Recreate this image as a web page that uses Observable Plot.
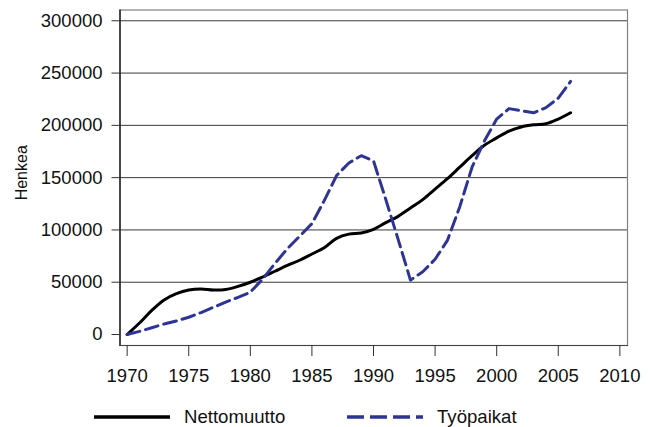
<!DOCTYPE html>
<html>
<head>
<meta charset="utf-8">
<script src="https://cdn.jsdelivr.net/npm/d3@7"></script>
<script src="https://cdn.jsdelivr.net/npm/@observablehq/plot@0.6"></script>
<style>
  body { margin: 0; background: #fff; font-family: "Liberation Sans", Arial, sans-serif; }
  #wrap { position: relative; width: 653px; height: 427px; }
  #legend { position: absolute; left: 0; top: 405px; width: 653px; height: 23px; font-size: 18.6px; color: #111; }
  .item { position: absolute; top: 0; display: flex; align-items: center; height: 23px; }
  .item span { margin-left: 14px; }
</style>
</head>
<body>
<div id="wrap">
  <div id="chart"></div>
  <div id="legend"></div>
</div>
<script>
const years = [1970,1971,1972,1973,1974,1975,1976,1977,1978,1979,1980,1981,1982,1983,1984,1985,1986,1987,1988,1989,1990,1991,1992,1993,1994,1995,1996,1997,1998,1999,2000,2001,2002,2003,2004,2005,2006];
const nettomuutto = [0,11000,23000,33000,39000,42500,43500,42500,43000,46000,50000,55000,60500,66000,71000,77000,83000,92000,96000,97000,100500,107000,113000,121000,129000,139000,149000,160000,171000,181000,188000,194500,198500,200500,201500,206000,212000];
const tyopaikat = [0,3000,6500,10000,13000,16500,21000,26000,31000,35500,40500,53000,68000,82000,94000,106000,128000,152000,164000,171000,166000,129000,91000,52000,60000,72000,90000,122000,160000,185000,206000,216000,214000,212000,217000,226000,242000];
const seriesNames = ["Nettomuutto", "Työpaikat"];
const xTicks = [1970,1975,1980,1985,1990,1995,2000,2005,2010];
const yTicks = [0,50000,100000,150000,200000,250000,300000];
const gridValues = [50000,100000,150000,200000,250000,300000];
const yLabel = "Henkea";

const colors = { "Nettomuutto": "#000000", "Työpaikat": "#2e3494" };

const rows = [];
years.forEach((y, i) => {
  rows.push({ year: y, value: nettomuutto[i], series: seriesNames[0] });
  rows.push({ year: y, value: tyopaikat[i], series: seriesNames[1] });
});

const chart = Plot.plot({
  width: 653,
  height: 395,
  marginLeft: 119.5,
  marginRight: 26,
  marginTop: 9.5,
  marginBottom: 50,
  style: { fontFamily: "'Liberation Sans', Arial, sans-serif", fontSize: "18.5px", color: "#111", background: "#fff" },
  x: { domain: [1969.42, 2010.62] },
  y: { domain: [-10500, 310300] },
  marks: [
    Plot.ruleY(gridValues, { stroke: "#3a3a3a", strokeWidth: 1 }),
    Plot.frame({ stroke: "#808080", strokeWidth: 1.2 }),
    Plot.frame({ anchor: "left", stroke: "#000", strokeWidth: 1.2 }),
    Plot.frame({ anchor: "bottom", stroke: "#444", strokeWidth: 1.2 }),
    Plot.axisX({ ticks: xTicks, tickFormat: d => String(d), tickSize: 11, tickPadding: 12, stroke: "#333", label: null, fontSize: 18.5 }),
    Plot.axisY({ ticks: yTicks, tickFormat: d => String(d), tickSize: 8, tickPadding: 9.5, stroke: "#333", label: null, fontSize: 18.5 }),
    Plot.line(rows.filter(d => d.series === seriesNames[0]), { x: "year", y: "value", stroke: colors[seriesNames[0]], strokeWidth: 3, curve: "catmull-rom" }),
    Plot.line(rows.filter(d => d.series === seriesNames[1]), { x: "year", y: "value", stroke: colors[seriesNames[1]], strokeWidth: 3, strokeDasharray: "13,6", curve: "linear", strokeLinejoin: "round" }),
    Plot.text([yLabel], { text: d => d, frameAnchor: "left", rotate: -90, dx: -98.5, dy: -5, textAnchor: "middle", lineAnchor: "middle", fontSize: 16, fill: "#111" })
  ]
});
document.getElementById("chart").appendChild(chart);

// legend
const legend = document.getElementById("legend");
const items = [
  { name: seriesNames[0], left: 94, dash: null },
  { name: seriesNames[1], left: 347, dash: "17,6" }
];
items.forEach(it => {
  const div = document.createElement("div");
  div.className = "item";
  div.style.left = it.left + "px";
  div.innerHTML = `<svg width="76" height="6"><line x1="0" y1="3" x2="76" y2="3" stroke="${colors[it.name]}" stroke-width="3.5" ${it.dash ? `stroke-dasharray="${it.dash}"` : ""}/></svg><span>${it.name}</span>`;
  legend.appendChild(div);
});
</script>
</body>
</html>
